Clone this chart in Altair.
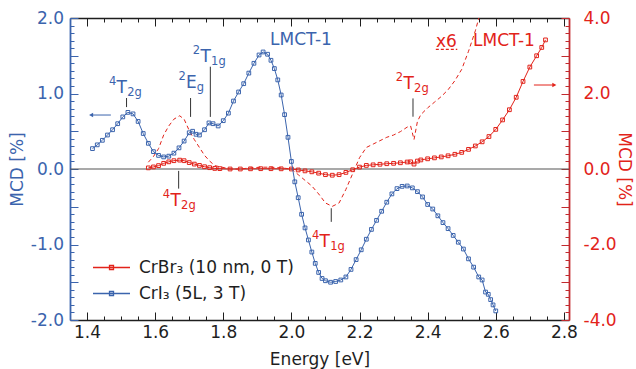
import altair as alt
import pandas as pd

FONT = "DejaVu Sans"
BLUE = "#3b64ad"
RED = "#e2231a"
RED_AXIS = "#c22a2e"
BLACK = "#1e1e1e"
GRAY = "#555555"

# ---------------- data ----------------
cri3_energy = [1.416, 1.43, 1.445, 1.46, 1.475, 1.49, 1.505, 1.52, 1.535, 1.55,
               1.565, 1.58, 1.595, 1.61, 1.625, 1.64, 1.655, 1.67, 1.685, 1.70,
               1.71, 1.72, 1.73, 1.745, 1.758, 1.77, 1.785, 1.80, 1.815, 1.83,
               1.845, 1.86, 1.875, 1.89, 1.905, 1.917, 1.93, 1.94, 1.95, 1.96,
               1.97, 1.98, 1.99, 2.00, 2.01, 2.02, 2.03, 2.04, 2.05, 2.06,
               2.07, 2.08, 2.09, 2.10, 2.115, 2.13, 2.145, 2.16, 2.175, 2.19,
               2.205, 2.22, 2.235, 2.25, 2.265, 2.28, 2.295, 2.31, 2.325, 2.34,
               2.355, 2.37, 2.385, 2.40, 2.415, 2.43, 2.445, 2.46, 2.475, 2.49,
               2.505, 2.52, 2.535, 2.55, 2.56, 2.57, 2.578, 2.585, 2.592, 2.60]
cri3_mcd = [0.27, 0.32, 0.38, 0.45, 0.52, 0.60, 0.69, 0.75, 0.73, 0.63,
            0.47, 0.34, 0.23, 0.18, 0.16, 0.17, 0.21, 0.28, 0.37, 0.48,
            0.50, 0.46, 0.45, 0.52, 0.61, 0.60, 0.57, 0.64, 0.74, 0.90,
            1.02, 1.13, 1.27, 1.40, 1.51, 1.55, 1.52, 1.44, 1.33, 1.18,
            0.98, 0.72, 0.42, 0.10, -0.17, -0.38, -0.60, -0.78, -0.94, -1.10,
            -1.25, -1.37, -1.45, -1.48, -1.50, -1.49, -1.47, -1.43, -1.33, -1.20,
            -1.07, -0.93, -0.80, -0.68, -0.56, -0.44, -0.33, -0.26, -0.23, -0.225,
            -0.25, -0.30, -0.37, -0.47, -0.53, -0.62, -0.71, -0.79, -0.88, -0.97,
            -1.06, -1.19, -1.30, -1.43, -1.47, -1.63, -1.66, -1.73, -1.80, -1.88]

crbr3_energy = [1.58, 1.595, 1.61, 1.625, 1.64, 1.655, 1.672, 1.685, 1.70, 1.715,
                1.73, 1.745, 1.76, 1.775, 1.79, 1.82, 1.85, 1.88, 1.91, 1.94,
                1.97, 2.00, 2.02, 2.04, 2.06, 2.08, 2.10, 2.12, 2.14, 2.16,
                2.18, 2.20, 2.22, 2.24, 2.26, 2.28, 2.30, 2.32, 2.34, 2.35,
                2.36, 2.37, 2.38, 2.40, 2.42, 2.44, 2.46, 2.48, 2.50, 2.52,
                2.54, 2.56, 2.58, 2.60, 2.62, 2.64, 2.66, 2.68, 2.70, 2.72,
                2.735, 2.746]
crbr3_mcd = [0.03, 0.055, 0.09, 0.15, 0.19, 0.22, 0.235, 0.22, 0.17, 0.13,
             0.095, 0.06, 0.035, 0.015, 0.01, 0.00, 0.00, 0.005, 0.008, 0.008,
             0.005, 0.00, -0.025, -0.05, -0.075, -0.11, -0.15, -0.165, -0.15, -0.09,
             -0.02, 0.05, 0.095, 0.11, 0.125, 0.14, 0.15, 0.165, 0.185, 0.19,
             0.13, 0.21, 0.24, 0.27, 0.295, 0.32, 0.35, 0.39, 0.44, 0.52,
             0.61, 0.72, 0.86, 1.05, 1.30, 1.57, 1.90, 2.32, 2.70, 3.00,
             3.22, 3.42]

series_names = ["CrBr₃ (10 nm, 0 T)", "CrI₃ (5L, 3 T)"]
series_colors = [RED, BLUE]
magnification = 6

# term labels (blue, left axis units)
blue_term_E = [1.502, 1.706, 1.748]
blue_term_y = [1.08, 1.146, 1.50]
blue_term_main = ["T", "E", "T"]
blue_term_sup = ["4", "2", "2"]
blue_term_sub = ["2g", "g", "1g"]
blue_mark_E = [1.516, 1.704, 1.762]
blue_mark_lo = [0.82, 0.69, 0.69]
blue_mark_hi = [0.94, 0.94, 1.355]

# term labels (red, right axis units)
red_term_E = [1.66, 2.098, 2.344]
red_term_y = [-0.82, -1.91, 2.29]
red_term_main = ["T", "T", "T"]
red_term_sup = ["4", "4", "2"]
red_term_sub = ["2g", "1g", "2g"]
red_mark_E = [1.669, 2.117, 2.357]
red_mark_lo = [-0.52, -1.40, 1.385]
red_mark_hi = [-0.05, -1.04, 1.87]

lmct_blue = {"E": [2.028], "y": [1.718], "t": ["LMCT-1"]}
lmct_red = {"E": [2.624], "y": [3.42], "t": ["LMCT-1"]}
x6_label = {"E": [2.455], "y": [3.40], "t": ["x6"]}
x6_underline = {"E": [2.424], "E2": [2.487], "y": [3.17]}
blue_arrow = {"E": [1.47], "E2": [1.412], "y": [0.715]}
red_arrow = {"E": [2.712], "E2": [2.772], "y": [2.225]}

# axis tick positions
x_major = [1.4, 1.6, 1.8, 2.0, 2.2, 2.4, 2.6, 2.8]
x_minor = [round(1.40 + 0.05 * i, 2) for i in range(29) if i % 4]
yl_major = [-2.0, -1.5, -1.0, -0.5, 0.0, 0.5, 1.0, 1.5, 2.0]
yl_minor = [round(-2.0 + 0.1 * i, 1) for i in range(41) if i % 5]
yr_major = [-4.0, -3.0, -2.0, -1.0, 0.0, 1.0, 2.0, 3.0, 4.0]
yr_minor = [round(-4.0 + 0.2 * i, 1) for i in range(41) if i % 5]

# ---------------- scales & axes ----------------
x_scale = alt.Scale(domain=[1.35, 2.815], nice=False, zero=False)
yl_scale = alt.Scale(domain=[-2, 2], nice=False, zero=False)
yr_scale = alt.Scale(domain=[-4, 4], nice=False, zero=False)
color_scale = alt.Scale(domain=series_names, range=series_colors)

LEG_PATH = "M-3.7,0H3.7M-0.4,-0.4H0.4V0.4H-0.4Z"
legend = alt.Legend(title=None, orient="none", legendX=33, legendY=241,
                    symbolType=LEG_PATH, symbolSize=100, symbolStrokeWidth=1.3,
                    labelFont=FONT, labelFontSize=17, labelColor=BLACK,
                    labelOffset=19, rowPadding=8, padding=0)

lab_fmt = "(datum.value < 0 ? '-' : '') + format(abs(datum.value), '.1f')"
MAJOR = {"expr": "-8"}
MINOR = {"expr": "-4"}

bottom_axis = alt.Axis(
    orient="bottom", values=x_major, grid=False, title="Energy [eV]",
    labelExpr=lab_fmt, tickSize=MAJOR,
    labelPadding=12, labelOverlap=False, labelFlush=False,
    domainColor=BLACK, domainWidth=1.5, tickColor=BLACK, tickWidth=1,
    labelColor=BLACK, labelFont=FONT, labelFontSize=17,
    titleColor=BLACK, titleFont=FONT, titleFontSize=17, titleFontWeight="normal",
    titleBaseline="alphabetic", titleY=44)
bottom_minor = alt.Axis(
    orient="bottom", values=x_minor, grid=False, title=None, labels=False,
    domain=False, tickSize=MINOR, tickColor=BLACK, tickWidth=1)

top_axis = alt.Axis(
    orient="top", values=x_major, grid=False, title=None, labels=False,
    tickSize=MAJOR, domainColor=BLACK, domainWidth=1.5, tickColor=BLACK, tickWidth=1)
top_minor = alt.Axis(
    orient="top", values=x_minor, grid=False, title=None, labels=False,
    domain=False, tickSize=MINOR, tickColor=BLACK, tickWidth=1)

left_axis = alt.Axis(
    orient="left", values=yl_major, grid=False, title="MCD [%]",
    labelExpr="abs(datum.value - round(datum.value)) < 0.01 ? " + lab_fmt + " : ''",
    tickSize=MAJOR, labelPadding=14.5, labelOverlap=False, labelFlush=False,
    domainColor=BLUE, domainWidth=1.8, tickColor=BLUE, tickWidth=1,
    labelColor=BLUE, labelFont=FONT, labelFontSize=17,
    titleColor=BLUE, titleFont=FONT, titleFontSize=17, titleFontWeight="normal",
    titleAngle=-90, titleBaseline="alphabetic", titleAlign="center",
    titleX=-48, titleY=151)
left_minor = alt.Axis(
    orient="left", values=yl_minor, grid=False, title=None, labels=False,
    domain=False, tickSize=MINOR, tickColor=BLUE, tickWidth=1)

right_axis = alt.Axis(
    orient="right", values=yr_major, grid=False, title="MCD [%]",
    labelExpr="abs(datum.value/2 - round(datum.value/2)) < 0.01 ? " + lab_fmt + " : ''",
    tickSize=MAJOR, labelPadding=22, labelOverlap=False, labelFlush=False,
    domainColor=RED_AXIS, domainWidth=1.8, tickColor=RED_AXIS, tickWidth=1,
    labelColor=RED, labelFont=FONT, labelFontSize=17,
    titleColor=RED, titleFont=FONT, titleFontSize=17, titleFontWeight="normal",
    titleAngle=90, titleBaseline="alphabetic", titleAlign="center",
    titleX=49, titleY=151)
right_minor = alt.Axis(
    orient="right", values=yr_minor, grid=False, title=None, labels=False,
    domain=False, tickSize=MINOR, tickColor=RED_AXIS, tickWidth=1)


def X(field="E", axis=None):
    return alt.X(f"{field}:Q", scale=x_scale, axis=axis)


def YL(field="y", axis=None):
    return alt.Y(f"{field}:Q", scale=yl_scale, axis=axis)


def YR(field="y", axis=None):
    return alt.Y(f"{field}:Q", scale=yr_scale, axis=axis)


# ---------------- frames ----------------
blue_df = pd.DataFrame({"E": cri3_energy, "y": cri3_mcd, "series": series_names[1]})
red_df = pd.DataFrame({"E": crbr3_energy, "y": crbr3_mcd, "series": series_names[0]})

blue_terms = pd.DataFrame({"E": blue_term_E, "y": blue_term_y, "main": blue_term_main,
                           "sup": blue_term_sup, "sub": blue_term_sub})
blue_marks = pd.DataFrame({"E": blue_mark_E, "y": blue_mark_lo, "y2": blue_mark_hi})
red_terms = pd.DataFrame({"E": red_term_E, "y": red_term_y, "main": red_term_main,
                          "sup": red_term_sup, "sub": red_term_sub})
red_marks = pd.DataFrame({"E": red_mark_E, "y": red_mark_lo, "y2": red_mark_hi})


def term_layers(df, yfn, color):
    main = alt.Chart(df).mark_text(font=FONT, fontSize=17, color=color,
                                   align="center", baseline="middle", dy=1).encode(
        x=X(), y=yfn(), text="main:N")
    sup = alt.Chart(df).mark_text(font=FONT, fontSize=11.5, color=color,
                                  align="right", baseline="middle", dx=-5.5, dy=-5).encode(
        x=X(), y=yfn(), text="sup:N")
    sub = alt.Chart(df).mark_text(font=FONT, fontSize=11.5, color=color,
                                  align="left", baseline="middle", dx=5.5, dy=6).encode(
        x=X(), y=yfn(), text="sub:N")
    return [main, sup, sub]


def plain_text(d, yfn, color):
    return alt.Chart(pd.DataFrame(d)).mark_text(
        font=FONT, fontSize=17, color=color, align="center", baseline="middle", dy=1).encode(
        x=X(), y=yfn(), text="t:N")


def arrow(d, yfn, color, shape):
    df = pd.DataFrame(d)
    shaft = alt.Chart(df).mark_rule(color=color, strokeWidth=1).encode(
        x=X(), x2="E2:Q", y=yfn())
    head = alt.Chart(df).mark_point(shape=shape, filled=True, size=22, color=color,
                                    opacity=1).encode(x=X("E2"), y=yfn())
    return [shaft, head]


# ---------------- red group (right axis) ----------------
zero_rule = alt.Chart(pd.DataFrame({"y": [0.0]})).mark_rule(
    color=GRAY, strokeWidth=1.2).encode(y=YR())

red_dashed = alt.Chart(red_df).transform_calculate(
    y6=f"datum.y * {magnification}").mark_line(
    color=RED, strokeWidth=1, strokeDash=[4, 3], clip=True).encode(
    x=X(), y=YR("y6"))

red_line = alt.Chart(red_df).mark_line(strokeWidth=1).encode(
    x=X(axis=top_axis), y=YR(axis=right_axis),
    color=alt.Color("series:N", scale=color_scale, legend=legend))

red_pts = alt.Chart(red_df).mark_point(
    shape="square", size=14, filled=False, strokeWidth=1, color=RED, opacity=1).encode(
    x=X(axis=top_minor), y=YR(axis=right_minor))

red_mark_rules = alt.Chart(red_marks).mark_rule(color="#333333", strokeWidth=1).encode(
    x=X(), y=YR(), y2="y2:Q")

x6_rule = alt.Chart(pd.DataFrame(x6_underline)).mark_rule(
    color=RED, strokeWidth=1.2, strokeDash=[3, 2]).encode(x=X(), x2="E2:Q", y=YR())

red_group = alt.layer(
    zero_rule, red_dashed, red_line, red_pts, red_mark_rules,
    *term_layers(red_terms, YR, RED),
    plain_text(lmct_red, YR, RED), plain_text(x6_label, YR, RED), x6_rule,
    *arrow(red_arrow, YR, RED, "triangle-right"),
).resolve_axis(x="independent", y="independent")

# ---------------- blue group (left axis) ----------------
blue_line = alt.Chart(blue_df).mark_line(strokeWidth=1).encode(
    x=X(axis=bottom_axis), y=YL(axis=left_axis),
    color=alt.Color("series:N", scale=color_scale, legend=legend))

blue_pts = alt.Chart(blue_df).mark_point(
    shape="square", size=14, filled=False, strokeWidth=1, color=BLUE, opacity=1).encode(
    x=X(axis=bottom_minor), y=YL(axis=left_minor))

blue_mark_rules = alt.Chart(blue_marks).mark_rule(color="#333333", strokeWidth=1).encode(
    x=X(), y=YL(), y2="y2:Q")

blue_group = alt.layer(
    blue_line, blue_pts, blue_mark_rules,
    *term_layers(blue_terms, YL, BLUE),
    plain_text(lmct_blue, YL, BLUE),
    *arrow(blue_arrow, YL, BLUE, "triangle-left"),
).resolve_axis(x="independent", y="independent")

chart = alt.layer(red_group, blue_group).resolve_scale(
    y="independent").resolve_axis(x="independent").properties(
    width=499, height=302,
    autosize=alt.AutoSizeParams(type="none"),
    padding={"left": 70, "top": 18, "right": 67, "bottom": 49},
    background="white",
).configure(font=FONT).configure_view(stroke=None)

chart.save("out.html", embed_options={"renderer": "svg", "actions": False})
